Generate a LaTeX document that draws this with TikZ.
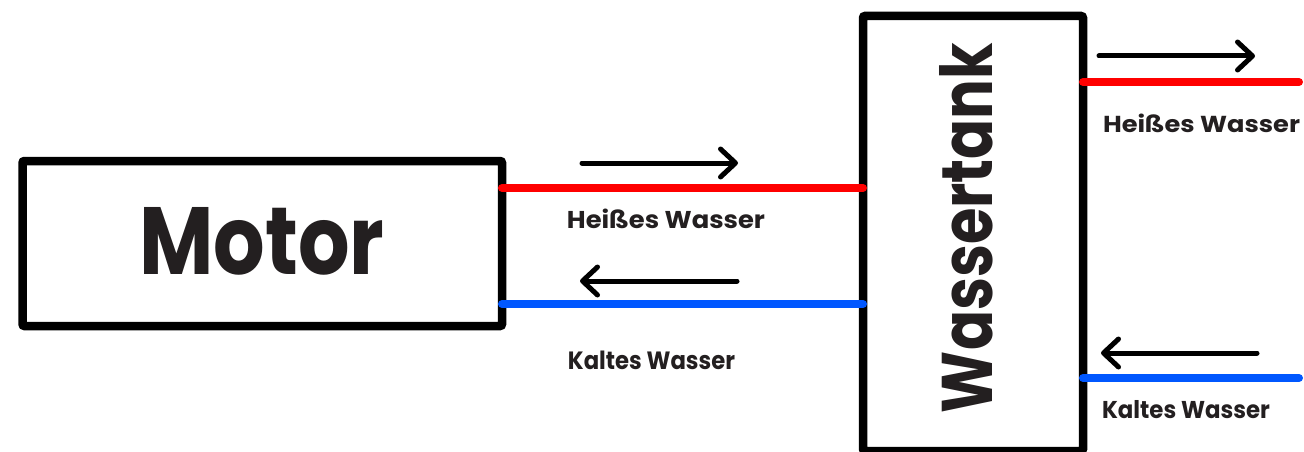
\documentclass[tikz,border=0pt]{standalone}
\usepackage{fontspec}
\setmainfont{Poppins}
\usetikzlibrary{arrows.meta}
\definecolor{txt}{HTML}{231F20}
\definecolor{hot}{HTML}{FF0000}
\definecolor{cold}{HTML}{0057FF}
\tikzset{
  box/.style={draw=black, line width=8.5pt, rounded corners=2pt, inner sep=0pt, outer sep=0pt, fill=white},
  pipe/.style={line width=8pt, line cap=round},
  flow/.style={line width=5pt, line cap=round, -{Straight Barb[length=15pt,width=28pt,round]}},
  lbl/.style={text=txt, font=\bfseries, inner sep=0pt, outer sep=0pt}
}
\newcommand{\fitbox}[3]{\resizebox{#1pt}{#2pt}{#3}}
\begin{document}
\begin{tikzpicture}[x=1pt,y=-1pt]
\useasboundingbox[fill=white] (0,0) rectangle (1304,452);
% boxes
\node[box, minimum width=479.5pt, minimum height=165pt] (motor) at (262.25,243.5) {};
\node[box, minimum width=220pt, minimum height=435pt] (tank) at (973,233.5) {};
\node[lbl] (motorlabel) at (262,241) {\fitbox{245}{67}{Motor}};
\node[lbl, rotate=90] (tanklabel) at (966,228) {\fitbox{370}{53}{Wassertank}};
% reference coordinates
\coordinate (hotL) at (0,188);
\coordinate (coldL) at (0,304);
\coordinate (hotR) at (1299,82);
\coordinate (coldR) at (1299,378);
% pipes
\draw[pipe, hot] (motor.east |- hotL) -- (tank.west |- hotL);
\draw[pipe, cold] (motor.east |- coldL) -- (tank.west |- coldL);
\draw[pipe, hot] (tank.east |- hotR) -- (hotR);
\draw[pipe, cold] (tank.east |- coldR) -- (coldR);
% flow arrows
\coordinate (a1s) at (582,163); \coordinate (a1e) at (738,163);
\coordinate (a2s) at (737,281); \coordinate (a2e) at (580,281);
\coordinate (a3s) at (1099,56); \coordinate (a3e) at (1255,56);
\coordinate (a4s) at (1257,353); \coordinate (a4e) at (1101,353);
\draw[flow] (a1s) -- (a1e);
\draw[flow] (a2s) -- (a2e);
\draw[flow] (a3s) -- (a3e);
\draw[flow] (a4s) -- (a4e);
% labels
\node[lbl] (hotLlabel) at (666,219) {\fitbox{198}{19.5}{Heißes Wasser}};
\node[lbl] (coldLlabel) at (651.5,360) {\fitbox{167}{18.5}{Kaltes Wasser}};
\node[lbl] (hotRlabel) at (1201.5,123) {\fitbox{197}{18.5}{Heißes Wasser}};
\node[lbl] (coldRlabel) at (1186,410) {\fitbox{168}{18}{Kaltes Wasser}};
\end{tikzpicture}
\end{document}
